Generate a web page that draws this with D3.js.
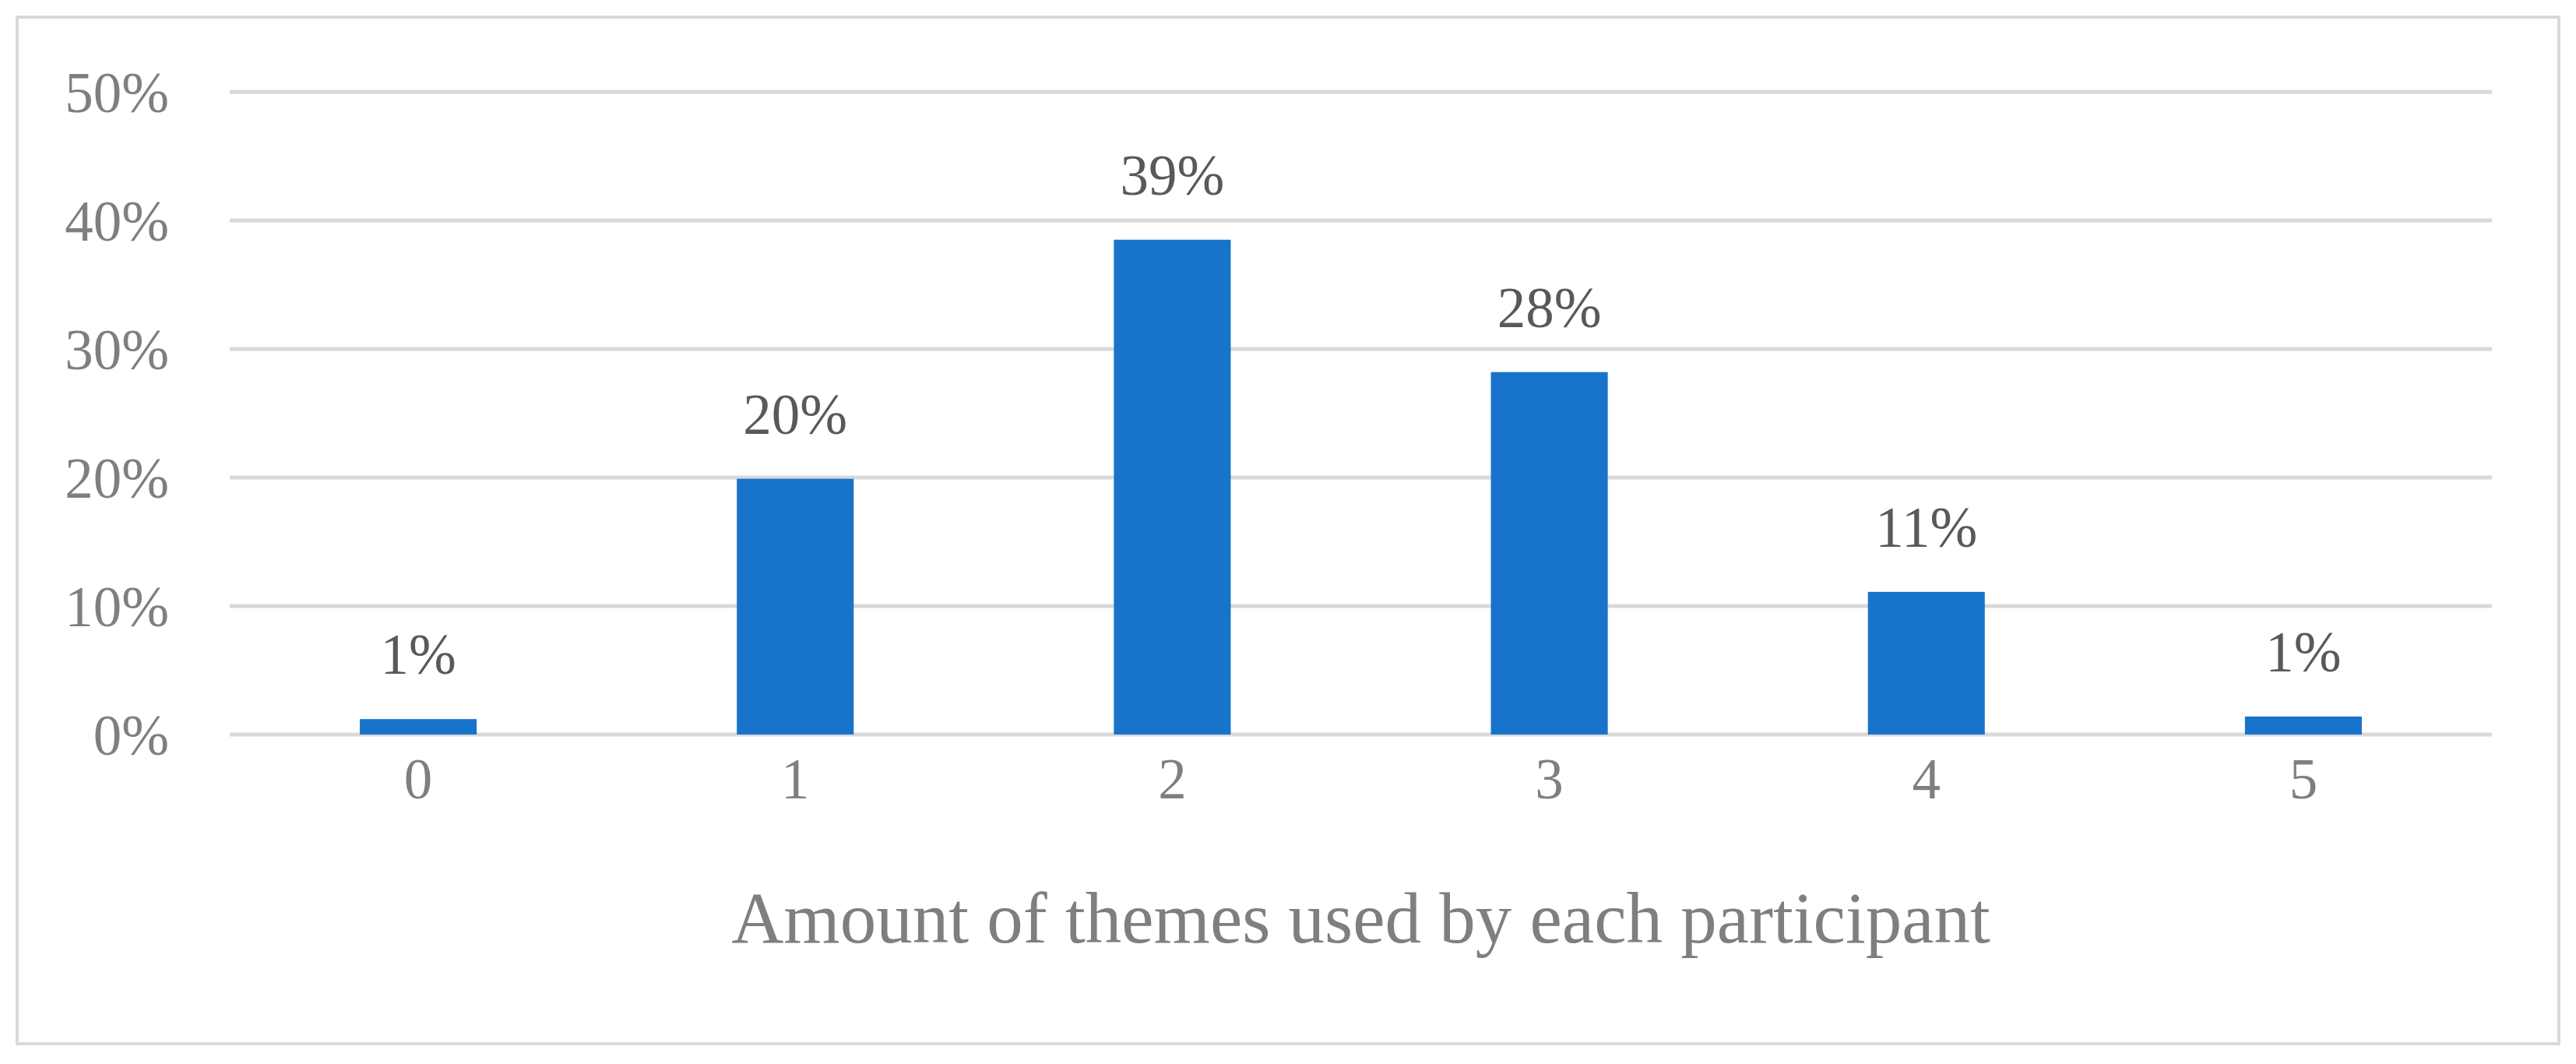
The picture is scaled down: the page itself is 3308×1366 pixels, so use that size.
<!DOCTYPE html>
<html>
<head>
<meta charset="utf-8">
<script src="https://cdn.jsdelivr.net/npm/d3@7"></script>
<style>
  body { margin: 0; background: #fff; }
  text { font-family: "Liberation Serif", "DejaVu Serif", serif; }
</style>
</head>
<body>
<div id="chart"></div>
<script>
const w = 3308;
const h = 1366;

// chart data
const categories = ["0", "1", "2", "3", "4", "5"];
const values = [0.012, 0.199, 0.385, 0.282, 0.111, 0.014];
const labels = ["1%", "20%", "39%", "28%", "11%", "1%"];
const yTicks = [0, 0.1, 0.2, 0.3, 0.4, 0.5];
const xTitle = "Amount of themes used by each participant";

const plot = { left: 295, right: 3200, top: 118, bottom: 943 };

const svg = d3.select("#chart").append("svg").attr("width", w).attr("height", h);

// outer border
svg.append("rect")
  .attr("x", 22).attr("y", 22)
  .attr("width", w - 44).attr("height", h - 48)
  .attr("fill", "none").attr("stroke", "#d9d9d9").attr("stroke-width", 4);

const xScale = d3.scaleBand()
  .domain(categories)
  .range([plot.left, plot.right])
  .paddingInner(0.69)
  .paddingOuter(0.345);

const yScale = d3.scaleLinear()
  .domain([0, 0.5])
  .range([plot.bottom, plot.top]);

//Gridlines
svg.append("g")
  .selectAll("line")
  .data(yTicks)
  .enter()
  .append("line")
  .attr("x1", plot.left).attr("x2", plot.right)
  .attr("y1", (d) => yScale(d)).attr("y2", (d) => yScale(d))
  .attr("stroke", "#d9d9d9").attr("stroke-width", 5);

//Y labels
svg.append("g")
  .selectAll("text")
  .data(yTicks)
  .enter()
  .append("text")
  .attr("x", 217)
  .attr("y", (d) => yScale(d))
  .attr("dy", "0.35em")
  .attr("text-anchor", "end")
  .attr("font-size", 73)
  .attr("fill", "#7f7f7f")
  .text((d) => d3.format(".0%")(d));

//Bars
svg.selectAll("rect.bar")
  .data(values)
  .enter()
  .append("rect")
  .attr("class", "bar")
  .attr("x", (d, i) => xScale(categories[i]))
  .attr("y", (d) => yScale(d))
  .attr("width", xScale.bandwidth())
  .attr("height", (d) => plot.bottom - yScale(d))
  .attr("fill", "#1874cb");

//Data labels
svg.selectAll("text.val")
  .data(values)
  .enter()
  .append("text")
  .attr("class", "val")
  .attr("x", (d, i) => xScale(categories[i]) + xScale.bandwidth() / 2)
  .attr("y", (d) => yScale(d) - 58)
  .attr("text-anchor", "middle")
  .attr("font-size", 73)
  .attr("fill", "#595959")
  .text((d, i) => labels[i]);

//X labels
svg.selectAll("text.cat")
  .data(categories)
  .enter()
  .append("text")
  .attr("class", "cat")
  .attr("x", (d) => xScale(d) + xScale.bandwidth() / 2)
  .attr("y", 1025)
  .attr("text-anchor", "middle")
  .attr("font-size", 73)
  .attr("fill", "#7f7f7f")
  .text((d) => d);

svg.append("text")
  .attr("x", (plot.left + plot.right) / 2)
  .attr("y", 1210)
  .attr("text-anchor", "middle")
  .attr("font-size", 93)
  .attr("fill", "#7f7f7f")
  .text(xTitle);
</script>
</body>
</html>
